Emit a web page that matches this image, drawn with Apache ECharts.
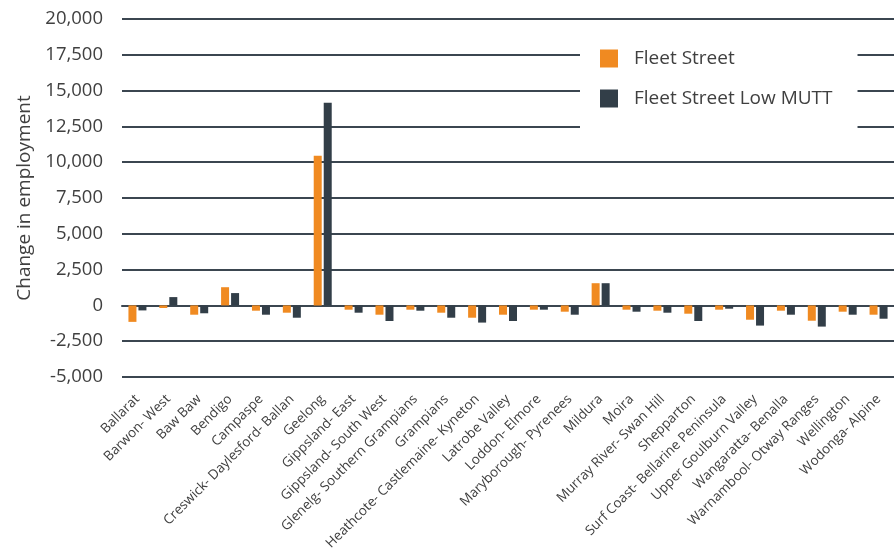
<!DOCTYPE html>
<html>
<head>
<meta charset="utf-8">
<script src="https://cdn.jsdelivr.net/npm/echarts@6/dist/echarts.min.js"></script>
<style>html,body{margin:0;padding:0;background:#fff}#c{width:894px;height:555px}</style>
</head>
<body>
<div id="c"></div>
<script>
const categories = ["Ballarat","Barwon- West","Baw Baw","Bendigo","Campaspe","Creswick- Daylesford- Ballan","Geelong","Gippsland- East","Gippsland- South West","Glenelg- Southern Grampians","Grampians","Heathcote- Castlemaine- Kyneton","Latrobe Valley","Loddon- Elmore","Maryborough- Pyrenees","Mildura","Moira","Murray River- Swan Hill","Shepparton","Surf Coast- Bellarine Peninsula","Upper Goulburn Valley","Wangaratta- Benalla","Warnambool- Otway Ranges","Wellington","Wodonga- Alpine"];
const fleetStreet = [-1150,-180,-650,1270,-370,-510,10450,-300,-650,-300,-510,-860,-650,-300,-440,1550,-300,-370,-580,-300,-1000,-370,-1070,-440,-650];
const fleetStreetLowMUTT = [-350,580,-550,860,-650,-860,14150,-510,-1090,-370,-860,-1200,-1090,-300,-650,1550,-440,-510,-1090,-230,-1410,-650,-1480,-650,-930];
const yTicks = {min:-5000, max:20000, interval:2500};

const gridColor = '#3b4650';
const textColor = '#404040';
const chart = echarts.init(document.getElementById('c'));
chart.setOption({
  animation:false,
  textStyle:{fontFamily:'Open Sans'},
  grid:{left:122, right:-6, top:19, bottom:178, containLabel:false},
  legend:{
    orient:'vertical', left:580, top:31,
    backgroundColor:'#fff',
    padding:[18,25,24,20],
    itemWidth:18, itemHeight:18, itemGap:21,
    icon:'rect',
    textStyle:{fontSize:19, lineHeight:18, color:textColor, fontFamily:'Open Sans', padding:[0,0,0,11]},
    data:['Fleet Street','Fleet Street Low MUTT']
  },
  xAxis:{
    type:'category', data:categories,
    axisLine:{show:true, onZero:true, lineStyle:{color:gridColor, width:2}},
    axisTick:{show:false},
    axisLabel:{interval:0, rotate:45, fontSize:13.5, color:textColor, margin:20, fontFamily:'Open Sans'}
  },
  yAxis:{
    type:'value', min:yTicks.min, max:yTicks.max, interval:yTicks.interval,
    name:'Change in employment', nameLocation:'middle', nameGap:86,
    nameTextStyle:{fontSize:19, color:textColor, fontFamily:'Open Sans'},
    axisLine:{show:false}, axisTick:{show:false},
    axisLabel:{fontSize:18.5, color:textColor, margin:19, fontFamily:'Open Sans',
      formatter:v=>v.toLocaleString('en-US')},
    splitLine:{show:true, lineStyle:{color:gridColor, width:2}}
  },
  series:[
    {name:'Fleet Street', type:'bar', data:fleetStreet, barWidth:8, barGap:'25%', itemStyle:{color:'#f08a21'}},
    {name:'Fleet Street Low MUTT', type:'bar', data:fleetStreetLowMUTT, barWidth:8, barGap:'25%', itemStyle:{color:'#323e48'}}
  ]
});
</script>
</body>
</html>
